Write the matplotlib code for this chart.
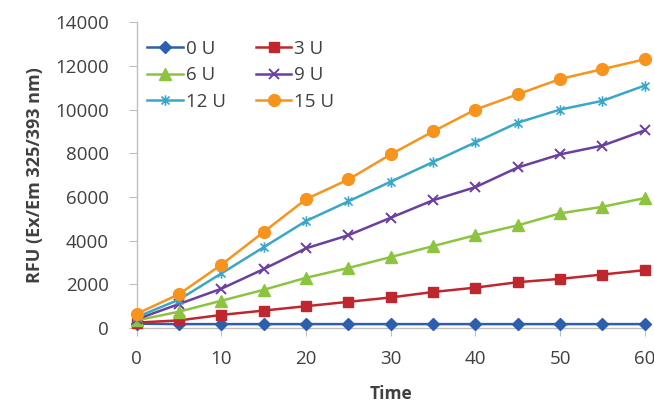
import matplotlib
matplotlib.use("Agg")
import matplotlib.pyplot as plt
from matplotlib.path import Path

# ---- data ----
time = [0, 5, 10, 15, 20, 25, 30, 35, 40, 45, 50, 55, 60]
labels = ["0 U", "3 U", "6 U", "9 U", "12 U", "15 U"]
rfu_0u = [200, 180, 180, 180, 180, 180, 180, 180, 180, 180, 180, 180, 180]
rfu_3u = [250, 350, 600, 800, 1000, 1200, 1400, 1650, 1850, 2100, 2250, 2450, 2650]
rfu_6u = [350, 750, 1250, 1750, 2300, 2750, 3250, 3750, 4250, 4700, 5250, 5550, 5950]
rfu_9u = [400, 1100, 1800, 2700, 3650, 4250, 5050, 5850, 6450, 7350, 7950, 8350, 9050]
rfu_12u = [500, 1300, 2500, 3700, 4900, 5800, 6700, 7600, 8500, 9400, 10000, 10400, 11100]
rfu_15u = [650, 1550, 2900, 4400, 5900, 6800, 7950, 9000, 10000, 10700, 11400, 11850, 12300]

# star marker like Excel: x with a vertical bar
STAR = Path([(-1, -1), (1, 1), (-1, 1), (1, -1), (0, -1.3), (0, 1.3)],
            [Path.MOVETO, Path.LINETO, Path.MOVETO, Path.LINETO, Path.MOVETO, Path.LINETO])

styles = [
    ("#2E5FAE", "D", 6.5, 1),
    ("#C0262D", "s", 7.5, 1),
    ("#8CC43F", "^", 8, 1),
    ("#6B3FA0", "x", 7.5, 1.4),
    ("#3AA6C8", STAR, 7.5, 1.2),
    ("#F7941E", "o", 8.5, 1),
]
series = [rfu_0u, rfu_3u, rfu_6u, rfu_9u, rfu_12u, rfu_15u]

plt.rcParams["font.family"] = ["Open Sans", "DejaVu Sans"]

fig = plt.figure(figsize=(6.54, 4.03), dpi=100)
ax = fig.add_axes([0.209, 0.186, 0.777, 0.759])

handles = []
for vals, lab, (col, mk, ms, mew) in zip(series, labels, styles):
    h, = ax.plot(time, vals, color=col, lw=1.8, marker=mk, markersize=ms,
                 markeredgewidth=mew, label=lab, clip_on=False, zorder=3)
    handles.append(h)

ax.set_xlim(0, 60)
ax.set_ylim(0, 14000)
ax.set_xticks(range(0, 61, 10))
ax.set_yticks(range(0, 14001, 2000))

for s in ("top", "right"):
    ax.spines[s].set_visible(False)
for s in ("left", "bottom"):
    ax.spines[s].set_color("#BFBFBF")
    ax.spines[s].set_linewidth(1)

ax.tick_params(axis="both", colors="#BFBFBF", labelcolor="#404040",
               labelsize=13.5, length=6, direction="out")
ax.tick_params(axis="y", pad=14)
ax.tick_params(axis="x", pad=10)

ax.set_ylabel("RFU (Ex/Em 325/393 nm)", fontsize=13, fontweight="bold",
              color="#404040", labelpad=8)
ax.set_xlabel("Time", fontsize=12.5, fontweight="bold", color="#404040",
              labelpad=12)

# legend reads row by row (0 U, 3 U / 6 U, 9 U / 12 U, 15 U)
order = [0, 2, 4, 1, 3, 5]
ax.legend([handles[i] for i in order], [labels[i] for i in order],
          ncol=2, loc="upper left", bbox_to_anchor=(-0.005, 0.985),
          frameon=False, fontsize=13.5, handlelength=1.9, handletextpad=0.15,
          columnspacing=1.6, labelspacing=0.45, borderaxespad=0.3,
          labelcolor="#404040")

fig.savefig("out.png", dpi=100)
